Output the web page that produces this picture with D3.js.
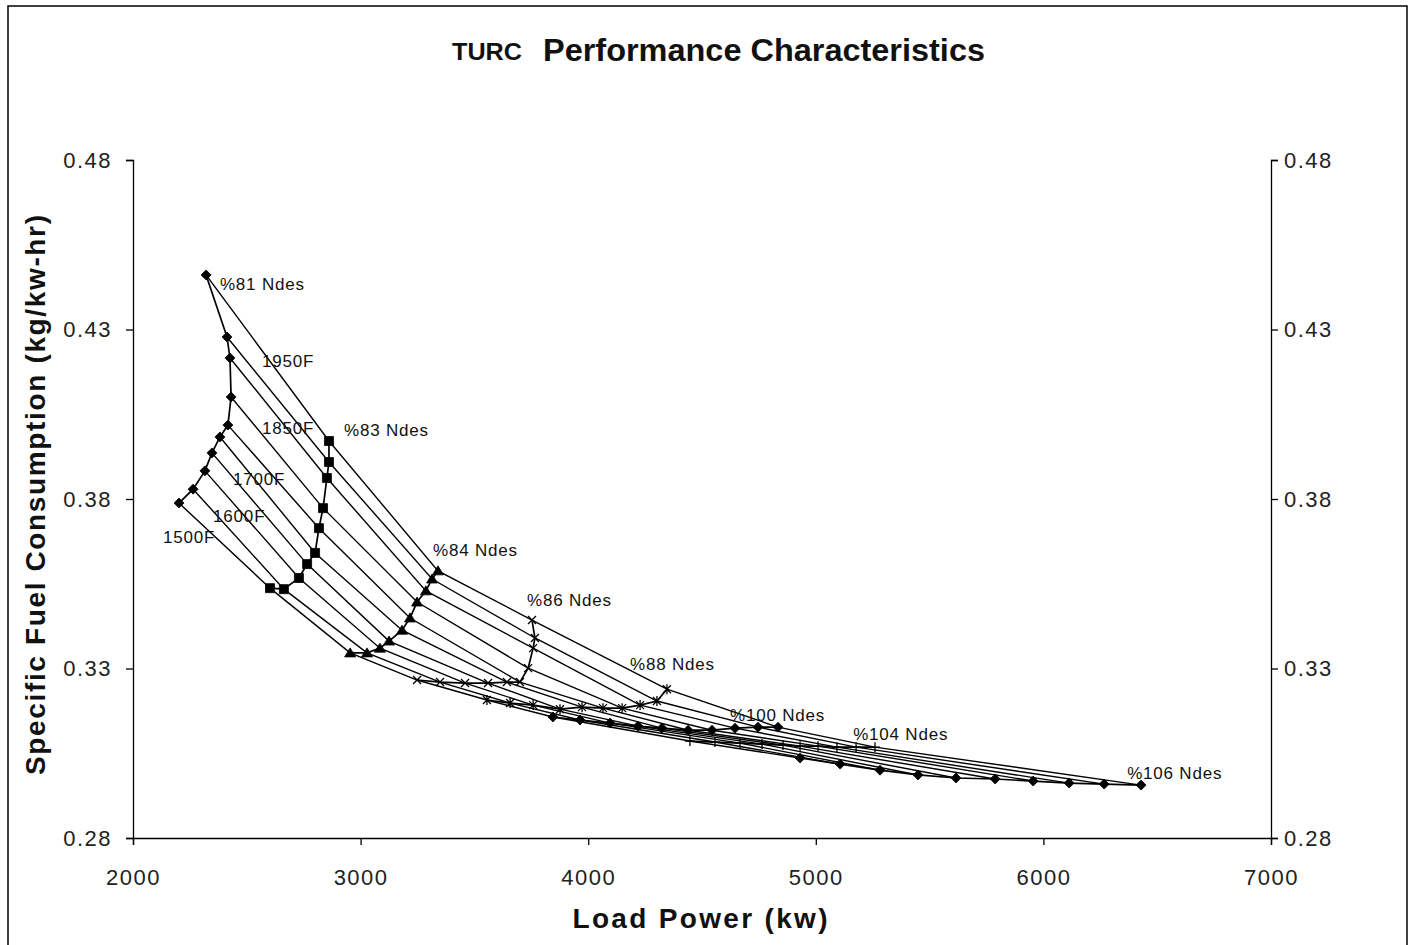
<!DOCTYPE html>
<html><head><meta charset="utf-8">
<script src="https://cdn.jsdelivr.net/npm/d3@7"></script>
<style>body{margin:0;background:#fff} text{font-family:"Liberation Sans",Arial,sans-serif}</style>
</head><body><svg id="c" width="1411" height="945"></svg>
<script>
// ---- data ----
const temperatures = ["1500F","1550F","1600F","1650F","1700F","1750F","1800F","1850F","1900F","1950F"];
const speedNames = ["%81 Ndes","%83 Ndes","%84 Ndes","%86 Ndes","%88 Ndes","%100 Ndes","%104 Ndes","%106 Ndes"];
// load power (kw) and SFC (kg/kw-hr) for each speed, ordered 1500F .. 1950F
const power81 = [2202,2264,2316,2347,2382,2417,2431,2426,2413,2321];
const sfc81   = [0.3788,0.3829,0.3883,0.3936,0.3983,0.4018,0.4101,0.4216,0.4278,0.4461];
const power83 = [2602,2663,2729,2765,2800,2817,2835,2852,2861,2861];
const sfc83   = [0.3537,0.3534,0.3567,0.3608,0.3641,0.3714,0.3773,0.3862,0.3909,0.3971];
const power84 = [2954,3028,3085,3125,3182,3217,3248,3287,3314,3340];
const sfc84   = [0.3346,0.3346,0.3360,0.3381,0.3413,0.3449,0.3496,0.3529,0.3564,0.3588];
const power86 = [3248,3349,3459,3560,3643,3700,3736,3758,3766,3753];
const sfc86   = [0.3266,0.3260,0.3257,0.3257,0.3260,0.3260,0.3301,0.3360,0.3390,0.3443];
const power88 = [3555,3657,3758,3876,3973,4065,4149,4228,4302,4346];
const sfc88   = [0.3207,0.3198,0.3192,0.3180,0.3186,0.3183,0.3183,0.3192,0.3204,0.3239];
const power100 = [3845,3964,4096,4219,4324,4439,4544,4645,4746,4834];
const sfc100   = [0.3157,0.3148,0.3139,0.3130,0.3124,0.3118,0.3118,0.3124,0.3127,0.3127];
const power104 = [4447,4557,4667,4764,4856,4931,5010,5093,5177,5260];
const sfc104   = [0.3086,0.3083,0.3080,0.3077,0.3074,0.3071,0.3071,0.3068,0.3068,0.3068];
const power106 = [4931,5107,5282,5449,5616,5788,5955,6113,6267,6429];
const sfc106   = [0.3036,0.3018,0.3000,0.2986,0.2977,0.2974,0.2968,0.2962,0.2959,0.2956];

const xTicks = [2000,3000,4000,5000,6000,7000];
const yTicks = [0.28,0.33,0.38,0.43,0.48];

// annotation labels (text, kw, sfc at text start/baseline)
const labelText  = ["%81 Ndes","1950F","1850F","%83 Ndes","1700F","1600F","1500F","%84 Ndes","%86 Ndes","%88 Ndes","%100 Ndes","%104 Ndes","%106 Ndes"];
const labelPower = [2382,2567,2567,2927,2439,2352,2132,3318,3731,4184,4623,5164,6368];
const labelSfc   = [0.4417,0.4189,0.3992,0.3986,0.3841,0.3732,0.3670,0.3632,0.3484,0.3296,0.3145,0.3089,0.2974];

// ---- build ----
const markerKinds = ["diamond","square","triangle","x","star","diamond","plus","diamond"];
const powers = [power81,power83,power84,power86,power88,power100,power104,power106];
const sfcs = [sfc81,sfc83,sfc84,sfc86,sfc88,sfc100,sfc104,sfc106];
const speeds = speedNames.map((n,i)=>({name:n, marker:markerKinds[i],
  pts: powers[i].map((p,j)=>[p, sfcs[i][j]])}));
const tempLines = temperatures.map((t,j)=>({name:t, pts: speeds.map(s=>s.pts[j])}));

const svg = d3.select("#c");
svg.append("rect").attr("width",1411).attr("height",945).attr("fill","#fff");
svg.append("rect").attr("x",8).attr("y",6).attr("width",1399).attr("height",960)
  .attr("fill","none").attr("stroke","#000").attr("stroke-width",1.5);

const x = d3.scaleLinear().domain([2000,7000]).range([133,1271]);
const y = d3.scaleLinear().domain([0.28,0.48]).range([838,160]);

// title
svg.append("text").attr("x",452).attr("y",60).attr("font-weight","bold").attr("fill","#111")
  .attr("font-size",24).attr("textLength",70).attr("lengthAdjust","spacingAndGlyphs").text("TURC");
svg.append("text").attr("x",543).attr("y",61).attr("font-weight","bold").attr("fill","#111")
  .attr("font-size",31).attr("textLength",442).attr("lengthAdjust","spacingAndGlyphs").text("Performance Characteristics");

// axes
const fmt = d3.format(".2f");
const gl = svg.append("g").attr("transform","translate(133,0)")
  .call(d3.axisLeft(y).tickValues(yTicks).tickFormat(fmt).tickSize(7).tickPadding(14));
const gr = svg.append("g").attr("transform","translate(1271,0)")
  .call(d3.axisRight(y).tickValues(yTicks).tickFormat(fmt).tickSize(7).tickPadding(6));
const gb = svg.append("g").attr("transform","translate(0,838)")
  .call(d3.axisBottom(x).tickValues(xTicks).tickFormat(d3.format("d")).tickSize(7).tickPadding(24));
[gl,gr,gb].forEach(g=>{
  g.selectAll("path.domain").attr("stroke","#000").attr("stroke-width",1.3);
  g.selectAll("line").attr("stroke","#000").attr("stroke-width",1.3);
  g.selectAll("text").attr("font-size",22).attr("letter-spacing",1.5).attr("fill","#222")
   .attr("font-family","'Liberation Sans',Arial,sans-serif");
});

// axis titles
svg.append("text").attr("x",700).attr("y",928).attr("text-anchor","middle")
  .attr("font-size",28).attr("font-weight","bold").attr("fill","#111")
  .attr("textLength",255).attr("lengthAdjust","spacing").text("Load Power  (kw)");
svg.append("text").attr("transform","translate(45,495) rotate(-90)").attr("text-anchor","middle")
  .attr("font-size",28).attr("font-weight","bold").attr("fill","#111")
  .attr("textLength",560).attr("lengthAdjust","spacing").text("Specific Fuel Consumption (kg/kw-hr)");

// lines
const line = d3.line().x(d=>x(d[0])).y(d=>y(d[1]));
svg.append("g").selectAll("path").data(tempLines).join("path")
  .attr("d",d=>line(d.pts)).attr("fill","none").attr("stroke","#000").attr("stroke-width",1.4);
svg.append("g").selectAll("path").data(speeds).join("path")
  .attr("d",d=>line(d.pts)).attr("fill","none").attr("stroke","#000").attr("stroke-width",1.7);

// markers
const markerPath = {
  diamond:"M0,-5L5,0L0,5L-5,0Z",
  square:"M-4.5,-4.5H4.5V4.5H-4.5Z",
  triangle:"M0,-5L5.5,4L-5.5,4Z",
  x:"M-4,-4L4,4M-4,4L4,-4",
  star:"M-4,-4L4,4M-4,4L4,-4M0,-5V5",
  plus:"M-5,0H5M0,-5V5"
};
speeds.forEach(s=>{
  const filled = ["diamond","square","triangle"].includes(s.marker);
  svg.append("g").selectAll("path").data(s.pts).join("path")
    .attr("transform",d=>`translate(${x(d[0])},${y(d[1])})`)
    .attr("d",markerPath[s.marker])
    .attr("fill",filled?"#000":"none").attr("stroke","#000").attr("stroke-width",filled?0.8:1.3);
});

// labels
svg.append("g").selectAll("text").data(labelText).join("text")
  .attr("x",(d,i)=>x(labelPower[i])).attr("y",(d,i)=>y(labelSfc[i]))
  .attr("font-size",17).attr("letter-spacing",0.8).attr("fill","#111").text(d=>d);
</script></body></html>
